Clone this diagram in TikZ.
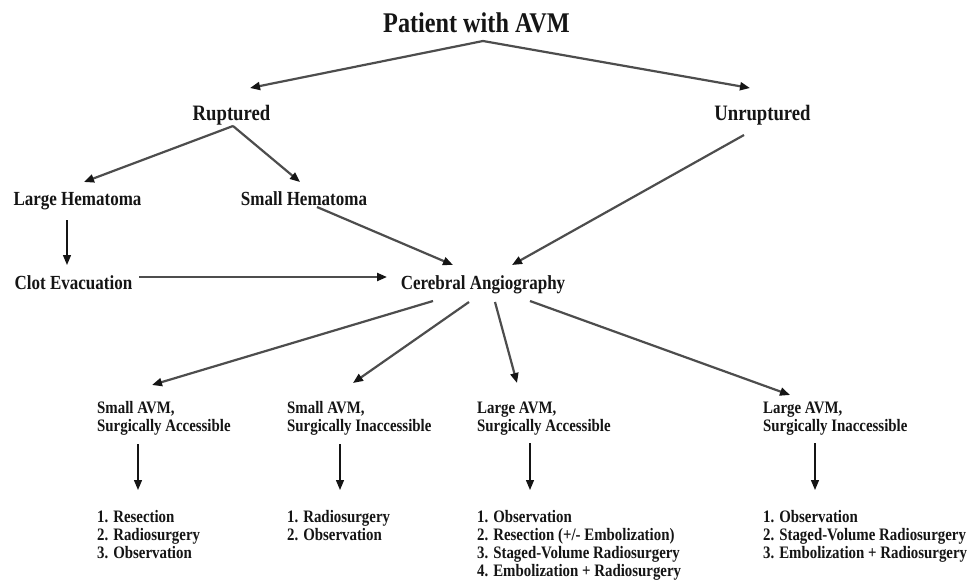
\documentclass[tikz,border=0pt]{standalone}
\usepackage{fontspec}
\setmainfont{Liberation Serif}[FakeStretch=0.85]
\usetikzlibrary{arrows.meta,calc}
\definecolor{linegray}{HTML}{4D4D4D}
\definecolor{inkdark}{HTML}{151515}
\tikzset{
  lbl/.style={inner sep=0pt, anchor=base, text=inkdark},
  lblw/.style={inner sep=0pt, anchor=base west, text=inkdark},
  toptext/.style={font=\fontsize{28.5}{34}\bfseries},
  midtext/.style={font=\fontsize{22}{27}\bfseries},
  lowtext/.style={font=\fontsize{20}{24}\bfseries},
  smalltext/.style={font=\fontsize{17.5}{18}\bfseries},
  grayarrow/.style={draw=linegray, line width=2.2pt,
    -{Triangle[length=10pt,width=8pt,color=inkdark]}},
  blackarrow/.style={draw=inkdark, line width=1.3pt,
    -{Triangle[length=10pt,width=8pt,color=inkdark]}}
}
\newcommand{\blocktext}[1]{\begin{tabular}[t]{@{}l@{}}#1\end{tabular}}
\begin{document}
\begin{tikzpicture}[x=1pt,y=-1pt]
\useasboundingbox (0,0) rectangle (978,579);
\fill[white] (0,0) rectangle (978,579);

% top levels
\node[lbl,toptext] (title) at (476.5,32) {Patient with AVM};
\node[lbl,midtext] (rup) at (231.5,120) {Ruptured};
\node[lbl,midtext] (unr) at (762.5,120) {Unruptured};
\node[lbl,lowtext] (lh) at (77.5,205) {Large Hematoma};
\node[lbl,lowtext] (sh) at (304,205) {Small Hematoma};
\node[lbl,lowtext] (clot) at (73.5,289) {Clot Evacuation};
\node[lbl,lowtext] (ca) at (483,289) {Cerebral Angiography};

% bottom headers
\node[lblw,smalltext] (h1) at (97,413) {\blocktext{Small AVM,\\Surgically Accessible}};
\node[lblw,smalltext] (h2) at (287,413) {\blocktext{Small AVM,\\Surgically Inaccessible}};
\node[lblw,smalltext] (h3) at (477,413) {\blocktext{Large AVM,\\Surgically Accessible}};
\node[lblw,smalltext] (h4) at (763,413) {\blocktext{Large AVM,\\Surgically Inaccessible}};

% bottom lists
\node[lblw,smalltext] (l1) at (97,522) {\blocktext{1. Resection\\2. Radiosurgery\\3. Observation}};
\node[lblw,smalltext] (l2) at (287,522) {\blocktext{1. Radiosurgery\\2. Observation}};
\node[lblw,smalltext] (l3) at (477,522) {\blocktext{1. Observation\\2. Resection (+/- Embolization)\\3. Staged-Volume Radiosurgery\\4. Embolization + Radiosurgery}};
\node[lblw,smalltext] (l4) at (763,522) {\blocktext{1. Observation\\2. Staged-Volume Radiosurgery\\3. Embolization + Radiosurgery}};

% connectors
\draw[grayarrow] ($(title.base)+(6.5,9)$) -- ($(rup.base)+(18.5,-32)$);
\draw[grayarrow] ($(title.base)+(6.5,9)$) -- ($(unr.base)+(-12.5,-32)$);
\draw[grayarrow] ($(rup.base)+(1.5,6)$) -- ($(lh.base)+(6.5,-23)$);
\draw[grayarrow] ($(rup.base)+(1.5,6)$) -- ($(sh.base)+(-4,-23)$);
\draw[blackarrow] ($(lh.base)+(-10.5,15)$) -- ($(clot.base)+(-6.5,-24)$);
\draw[grayarrow] ($(clot.base)+(65.5,-12)$) -- ($(ca.base)+(-96,-12)$);
\draw[grayarrow] ($(sh.base)+(13,2)$) -- ($(ca.base)+(-30,-24)$);
\draw[grayarrow] ($(unr.base)+(-18.5,15)$) -- ($(ca.base)+(29,-24)$);

\draw[grayarrow] ($(ca.base)+(-50,12)$) -- ($(h1.base west)+(55,-28)$);
\draw[grayarrow] ($(ca.base)+(-14,13)$) -- ($(h2.base west)+(66,-30)$);
\draw[grayarrow] ($(ca.base)+(12,13)$) -- ($(h3.base west)+(40,-30)$);
\draw[grayarrow] ($(ca.base)+(47,12)$) -- ($(h4.base west)+(27,-18)$);

\draw[blackarrow] ($(h1.base west)+(41,31)$) -- ($(l1.base west)+(41,-32)$);
\draw[blackarrow] ($(h2.base west)+(53,31)$) -- ($(l2.base west)+(53,-32)$);
\draw[blackarrow] ($(h3.base west)+(53,30)$) -- ($(l3.base west)+(53,-32)$);
\draw[blackarrow] ($(h4.base west)+(52,30)$) -- ($(l4.base west)+(52,-32)$);
\end{tikzpicture}
\end{document}
